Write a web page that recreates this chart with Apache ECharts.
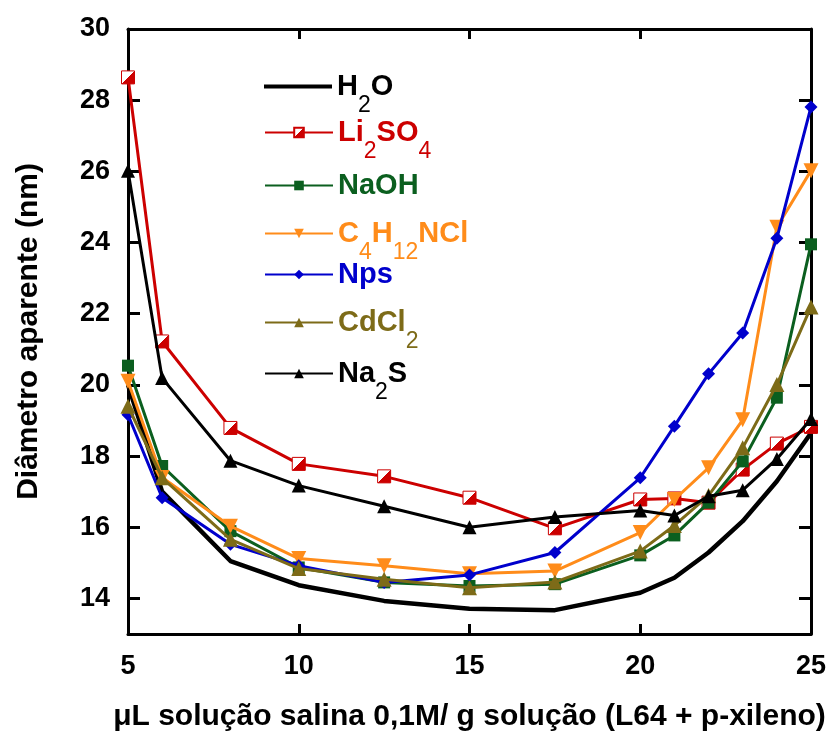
<!DOCTYPE html>
<html><head><meta charset="utf-8">
<script src="https://cdn.jsdelivr.net/npm/echarts@6/dist/echarts.min.js"></script>
<style>html,body{margin:0;padding:0;background:#fff}#c{width:829px;height:731px}</style>
</head><body><div id="c"></div>
<script>
const xValues = [5, 6, 8, 10, 12.5, 15, 17.5, 20, 21, 22, 23, 24, 25];
const yTicks = [14, 16, 18, 20, 22, 24, 26, 28, 30];
const seriesNames = ['H2O', 'Li2SO4', 'NaOH', 'C4H12NCl', 'Nps', 'CdCl2', 'Na2S'];
const h2o      = [20.0, 17.0, 15.05, 14.37, 13.93, 13.71, 13.67, 14.16, 14.58, 15.29, 16.17, 17.29, 18.65];
const li2so4   = [28.64, 21.22, 18.79, 17.78, 17.43, 16.83, 15.97, 16.78, 16.81, 16.69, 17.62, 18.35, 18.82];
const naoh     = [20.54, 17.72, 15.89, 14.87, 14.45, 14.35, 14.40, 15.21, 15.77, 16.69, 17.85, 19.64, 23.95];
const c4h12ncl = [20.1, 17.4, 16.03, 15.12, 14.92, 14.69, 14.77, 15.85, 16.78, 17.67, 19.02, 24.43, 26.02];
const nps      = [19.16, 16.83, 15.52, 14.92, 14.45, 14.66, 15.29, 17.39, 18.84, 20.31, 21.46, 24.12, 27.81];
const cdcl2    = [19.4, 17.39, 15.66, 14.84, 14.54, 14.30, 14.46, 15.33, 16.05, 16.89, 18.23, 20.01, 22.19];
const na2s     = [26.02, 20.19, 17.87, 17.17, 16.59, 16.00, 16.29, 16.47, 16.33, 16.87, 17.04, 17.92, 19.04];
const xTitle = 'μL solução salina 0,1M/ g solução (L64 + p-xileno)';
const yTitle = 'Diâmetro aparente (nm)';

const FONT = '"Liberation Sans", Arial, sans-serif';
const colors = ['#000000', '#cc0000', '#0b5f1f', '#ff8c1a', '#0000cc', '#7d6b18', '#000000'];
const values = [h2o, li2so4, naoh, c4h12ncl, nps, cdcl2, na2s];
function pairs(ys) { return xValues.map((x, i) => [x, ys[i]]); }

const halfFill = new echarts.graphic.LinearGradient(0, 0, 1, 1, [
  {offset: 0, color: '#ffffff'}, {offset: 0.5, color: '#ffffff'},
  {offset: 0.5, color: '#cc0000'}, {offset: 1, color: '#cc0000'}
]);

const symbolCfg = [
  {symbol: 'none'},
  {symbol: 'rect', symbolSize: 13, itemStyle: {color: halfFill, borderColor: '#cc0000', borderWidth: 1}},
  {symbol: 'rect', symbolSize: 12},
  {symbol: 'triangle', symbolSize: 15, symbolRotate: 180},
  {symbol: 'diamond', symbolSize: 13},
  {symbol: 'triangle', symbolSize: 15},
  {symbol: 'triangle', symbolSize: 14}
];

const series = seriesNames.map((name, i) => {
  const s = Object.assign({
    name: name,
    type: 'line',
    data: pairs(values[i]),
    lineStyle: {color: colors[i], width: i === 0 ? 4.5 : 3},
    showAllSymbol: true,
    z: 2 + i
  }, symbolCfg[i]);
  if (!symbolCfg[i].itemStyle) s.itemStyle = {color: colors[i]};
  return s;
});

function richName(name) {
  let out = name.replace(/(\d+)|(\D+)/g, (m, d, t) => d ? '{s|' + d + '}' : '{m|' + t + '}');
  if (!/\d/.test(name)) out += '{s| }';
  return out;
}

const legendCenters = [85, 131, 184, 232, 273, 321, 372];
const legends = seriesNames.map((name, i) => {
  const item = {name: name};
  if (i === 0) item.icon = 'rect';
  return {
    data: [item],
    orient: 'vertical',
    left: 264,
    top: legendCenters[i] - 13,
    padding: 0,
    itemWidth: 68,
    itemHeight: i === 0 ? 4 : 12,
    itemGap: 0,
    selectedMode: false,
    formatter: richName,
    textStyle: {
      color: colors[i],
      rich: {
        m: {fontSize: 29, fontWeight: 'bold', fontFamily: FONT, verticalAlign: 'middle'},
        s: {fontSize: 23, fontWeight: 'normal', fontFamily: FONT, padding: [38, 0, 0, 0], verticalAlign: 'middle'}
      }
    }
  };
});

const axisLineStyle = {color: '#000', width: 3};
const tickStyle = {color: '#000', width: 3};
const labelFont = {fontSize: 27, fontWeight: 'bold', color: '#000', fontFamily: FONT};
const titleFont = {fontSize: 30, fontWeight: 'bold', color: '#000', fontFamily: FONT};
const option = {
  animation: false,
  backgroundColor: '#fff',
  grid: {left: 128, right: 18, top: 29, bottom: 97, containLabel: false, outerBoundsMode: 'none'},
  legend: legends,
  xAxis: [{
    type: 'value', min: 5, max: 25, interval: 5, position: 'bottom',
    axisLine: {lineStyle: axisLineStyle},
    axisTick: {inside: true, length: 10, lineStyle: tickStyle},
    axisLabel: Object.assign({margin: 19}, labelFont),
    splitLine: {show: false},
    name: xTitle, nameLocation: 'middle', nameGap: 68,
    nameTextStyle: titleFont
  }, {
    type: 'value', min: 5, max: 25, interval: 5, position: 'top',
    axisLine: {lineStyle: axisLineStyle},
    axisTick: {inside: true, length: 10, lineStyle: tickStyle},
    axisLabel: {show: false},
    splitLine: {show: false}
  }],
  yAxis: [{
    type: 'value', min: 13, max: 30, position: 'left',
    axisLine: {show: true, lineStyle: axisLineStyle},
    axisTick: {show: true, inside: true, length: 12, customValues: yTicks, lineStyle: tickStyle},
    axisLabel: Object.assign({margin: 18, customValues: yTicks}, labelFont),
    splitLine: {show: false},
    name: yTitle, nameLocation: 'middle', nameGap: 84,
    nameTextStyle: titleFont
  }, {
    type: 'value', min: 13, max: 30, position: 'right',
    axisLine: {show: true, lineStyle: axisLineStyle},
    axisTick: {show: true, inside: true, length: 12, customValues: yTicks, lineStyle: tickStyle},
    axisLabel: {show: false},
    splitLine: {show: false}
  }],
  series: series
};

const chart = echarts.init(document.getElementById('c'), null, {renderer: 'canvas'});
chart.setOption(option);
</script>
</body></html>
